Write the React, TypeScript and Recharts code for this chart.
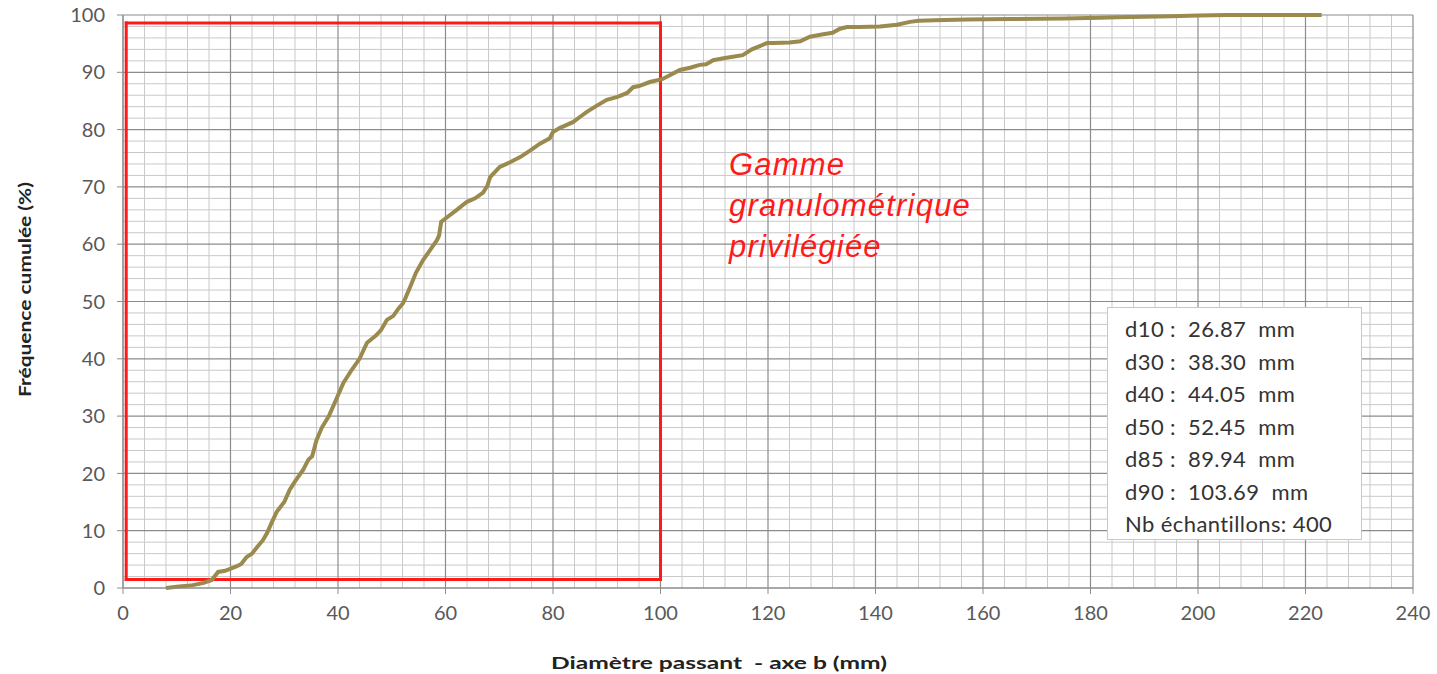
import { LineChart, Line, XAxis, YAxis, ReferenceLine, Label } from 'recharts';

// diamètre (mm) / fréquence cumulée (%)
const diameters = [
  8, 10, 13, 15, 16.5, 17.7, 19, 21.2, 22, 23,
  24, 25, 26, 26.8, 27.7, 28.6, 30, 31, 32, 33.5,
  34.5, 35.2, 36, 37, 38.3, 39.8, 41, 42.5, 44, 45.4,
  47, 48, 49.1, 50.3, 51.2, 52.1, 52.5, 53.4, 54.5, 55.8,
  57, 58.4, 58.8, 59.2, 60.3, 62.1, 64, 65.5, 67, 67.8,
  68.3, 70.1, 72, 73.9, 76, 77.5, 79.4, 80, 81.3, 83.7,
  85, 86.3, 88, 90, 92, 93.8, 94.9, 96, 98, 100.3,
  102, 103.6, 105.5, 107.3, 108.5, 109.8, 112, 115.3, 117, 119.8,
  121, 124, 126, 127.8, 130, 132, 133.4, 134.7, 137, 140.8,
  144, 146.4, 148, 151, 157, 165, 175, 181.8, 185, 190,
  195, 200, 205.4, 215, 223,
];
const cumulative = [
  0, 0.2, 0.5, 0.9, 1.4, 2.8, 3.0, 3.8, 4.2, 5.4,
  6.0, 7.2, 8.3, 9.6, 11.5, 13.3, 15.0, 17.1, 18.6, 20.6,
  22.4, 23.0, 25.8, 28.0, 30.0, 33.2, 35.8, 38.0, 40.0, 42.8,
  44.0, 45.0, 46.8, 47.5, 48.7, 49.7, 50.5, 52.5, 55.0, 57.2,
  58.8, 60.7, 61.5, 63.9, 64.7, 66.0, 67.4, 68.0, 69.0, 70.2,
  71.7, 73.5, 74.3, 75.2, 76.5, 77.5, 78.5, 79.6, 80.3, 81.3,
  82.2, 83.1, 84.1, 85.2, 85.7, 86.4, 87.4, 87.6, 88.3, 88.8,
  89.6, 90.4, 90.8, 91.3, 91.4, 92.1, 92.5, 93.0, 94.0, 95.1,
  95.1, 95.2, 95.4, 96.2, 96.6, 96.9, 97.6, 97.9, 97.9, 98.0,
  98.3, 98.8, 99.0, 99.1, 99.2, 99.3, 99.4, 99.5, 99.6, 99.7,
  99.8, 99.9, 100, 100, 100,
];

const xTicks = [0, 20, 40, 60, 80, 100, 120, 140, 160, 180, 200, 220, 240];
const yTicks = [0, 10, 20, 30, 40, 50, 60, 70, 80, 90, 100];

// "gamme granulométrique privilégiée" frame
const rangeX = [0.6, 100];
const rangeY = [1.5, 98.6];

const statLines = [
  'd10 :  26.87  mm',
  'd30 :  38.30  mm',
  'd40 :  44.05  mm',
  'd50 :  52.45  mm',
  'd85 :  89.94  mm',
  'd90 :  103.69  mm',
  'Nb échantillons: 400',
];

// grille secondaire : tous les 4 mm et tous les 2 %
const minorX = Array.from({ length: 61 }, (_, i) => i * 4).filter((v) => v % 20 !== 0);
const minorY = Array.from({ length: 51 }, (_, i) => i * 2).filter((v) => v % 10 !== 0);

const MINOR = '#c9c9c9';
const MAJOR = '#8c8c8c';
const RED = '#ff1a1a';

export default function App() {
  const data = diameters.map((d, i) => ({ d, f: cumulative[i] }));
  const [x0, x1] = rangeX;
  const [y0, y1] = rangeY;
  const frame = [
    [{ x: x0, y: y0 }, { x: x1, y: y0 }],
    [{ x: x1, y: y0 }, { x: x1, y: y1 }],
    [{ x: x1, y: y1 }, { x: x0, y: y1 }],
    [{ x: x0, y: y1 }, { x: x0, y: y0 }],
  ];

  return (
    <div
      style={{
        position: 'absolute',
        left: 0,
        top: 0,
        width: 1437,
        height: 674,
        background: '#fff',
        fontFamily: 'Lato, sans-serif',
      }}
    >
      <LineChart
        width={1437}
        height={674}
        data={data}
        margin={{ top: 15, right: 24, bottom: 0, left: 13 }}
      >
        {minorX.map((v) => (
          <ReferenceLine key={`mx-${v}`} x={v} stroke={MINOR} strokeWidth={1} />
        ))}
        {minorY.map((v) => (
          <ReferenceLine key={`my-${v}`} y={v} stroke={MINOR} strokeWidth={1} />
        ))}
        {xTicks.map((v) => (
          <ReferenceLine key={`Mx-${v}`} x={v} stroke={MAJOR} strokeWidth={1.2} />
        ))}
        {yTicks.map((v) => (
          <ReferenceLine key={`My-${v}`} y={v} stroke={MAJOR} strokeWidth={1.2} />
        ))}
        {frame.map((seg, i) => (
          <ReferenceLine
            key={`frame-${i}`}
            segment={seg}
            stroke={RED}
            strokeWidth={3}
            strokeLinecap="square"
          />
        ))}
        <XAxis
          type="number"
          dataKey="d"
          domain={[0, 240]}
          ticks={xTicks}
          height={86}
          tickSize={6}
          tickMargin={12}
          stroke={MAJOR}
          tick={{ fill: '#595959', fontSize: 20 }}
        >
          <Label
            content={() => (
              <text
                x={551}
                y={669}
                textLength={336}
                lengthAdjust="spacingAndGlyphs"
                fontSize={17}
                fontWeight="bold"
                fill="#222"
                style={{ whiteSpace: 'pre' }}
              >
                Diamètre passant  - axe b (mm)
              </text>
            )}
          />
        </XAxis>
        <YAxis
          type="number"
          domain={[0, 100]}
          ticks={yTicks}
          width={110}
          tickSize={6}
          tickMargin={12}
          stroke={MAJOR}
          tick={{ fill: '#595959', fontSize: 20 }}
        >
          <Label
            content={() => (
              <text
                x={0}
                y={0}
                transform="translate(31 397) rotate(-90)"
                textLength={215}
                lengthAdjust="spacingAndGlyphs"
                fontSize={17}
                fontWeight="bold"
                fill="#222"
              >
                Fréquence cumulée (%)
              </text>
            )}
          />
        </YAxis>
        <Line
          type="linear"
          dataKey="f"
          stroke="#9a8a4e"
          strokeWidth={4}
          dot={false}
          isAnimationActive={false}
        />
      </LineChart>

      <div
        style={{
          position: 'absolute',
          left: 729,
          top: 144,
          color: RED,
          fontFamily: '"Liberation Sans", Arial, sans-serif',
          fontStyle: 'italic',
          fontSize: 31,
          letterSpacing: '1.2px',
          lineHeight: '41px',
        }}
      >
        Gamme
        <br />
        granulométrique
        <br />
        privilégiée
      </div>

      <div
        style={{
          position: 'absolute',
          left: 1107,
          top: 307,
          width: 255,
          height: 233,
          background: '#fff',
          border: '1px solid #c8c8c8',
          boxSizing: 'border-box',
          padding: '5px 0 0 17px',
          color: '#333',
          fontSize: 22,
          letterSpacing: '0.4px',
          lineHeight: '32.5px',
        }}
      >
        {statLines.map((s) => (
          <div key={s} style={{ whiteSpace: 'pre' }}>
            {s}
          </div>
        ))}
      </div>
    </div>
  );
}
